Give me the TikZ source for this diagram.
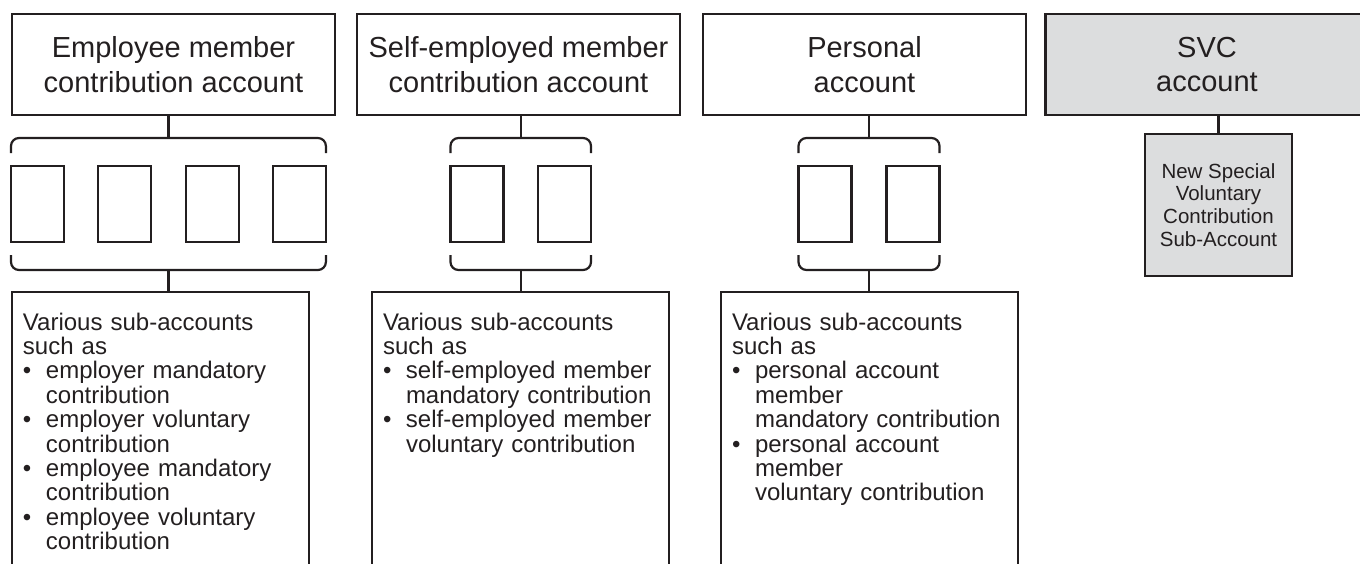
\documentclass[tikz,border=0pt]{standalone}
\usepackage{fontspec}
\setmainfont{Liberation Sans}
\usetikzlibrary{calc}
\definecolor{inkgray}{HTML}{231F20}
\definecolor{svcgray}{HTML}{DCDDDE}
\setlength{\parindent}{0pt}
% bullet line with hanging indent
\newcommand{\acctitem}[1]{\par\hangindent=23pt\hangafter=1\makebox[23pt][l]{\textbullet}#1\par}

\tikzset{
  acct/.style={draw=inkgray, line width=2.2pt, minimum width=323pt, minimum height=101pt,
    inner sep=0pt, outer sep=0pt, align=center, text=inkgray, font=\fontsize{29}{34.5}\selectfont},
  slot/.style={draw=inkgray, line width=2.2pt, minimum width=53pt, minimum height=76pt,
    inner sep=0pt, outer sep=0pt},
  detail/.style={draw=inkgray, line width=2.2pt, anchor=north west, text width=275pt,
    inner xsep=11pt, inner ysep=21pt, outer sep=0pt, text height=17pt, text depth=300pt,
    align=left, text=inkgray, font=\fontsize{24}{24.4}\selectfont},
  subacct/.style={draw=inkgray, fill=svcgray, line width=2.2pt, minimum width=147pt,
    minimum height=142pt, inner sep=0pt, outer sep=0pt, align=center, text=inkgray,
    font=\fontsize{20.5}{22.7}\selectfont},
  link/.style={draw=inkgray, line width=2.2pt},
  brace/.style={draw=inkgray, line width=2.2pt, rounded corners=8pt}
}

\begin{document}
\begin{tikzpicture}[x=1pt, y=-1pt]
\useasboundingbox (0,0) rectangle (1360,563);

% account boxes
\node[acct] (emp) at (173.5,64.5) {Employee member\\contribution account};
\node[acct] (self) at (518.5,64.5) {Self-employed member\\contribution account};
\node[acct] (pers) at (864.5,64.5) {Personal\\account};
\node[acct, fill=svcgray] (svc) at (1207,64.5) {SVC\\account};

% sub-account slots
\foreach \i/\x in {1/37.5, 2/124.8, 3/212.1, 4/299.4}
  \node[slot] (e\i) at (\x,204) {};
\node[slot] (s1) at (477,204) {};
\node[slot] (s2) at (564.5,204) {};
\node[slot] (p1) at (825,204) {};
\node[slot] (p2) at (913,204) {};

% brackets round the slots
\foreach \col/\first/\last in {e/e1/e4, s/s1/s2, p/p1/p2} {
  \draw[brace] ([yshift=13pt]\first.north west) -- ([yshift=28pt]\first.north west)
    -- ([yshift=28pt]\last.north east) -- ([yshift=13pt]\last.north east);
  \draw[brace] ([yshift=-13pt]\first.south west) -- ([yshift=-28pt]\first.south west)
    -- ([yshift=-28pt]\last.south east) -- ([yshift=-13pt]\last.south east);
  \coordinate (\col top) at ($(\first.north)!0.5!(\last.north)+(0,-28)$);
  \coordinate (\col bot) at ($(\first.south)!0.5!(\last.south)+(0,28)$);
}

% detail boxes, open at the bottom
\node[detail] (edet) at (12,292) {Various sub-accounts\newline such as
  \acctitem{employer mandatory\newline contribution}
  \acctitem{employer voluntary\newline contribution}
  \acctitem{employee mandatory\newline contribution}
  \acctitem{employee voluntary\newline contribution}};
\node[detail] (sdet) at (372,292) {Various sub-accounts\newline such as
  \acctitem{self-employed member\newline mandatory contribution}
  \acctitem{self-employed member\newline voluntary contribution}};
\node[detail] (pdet) at (721,292) {Various sub-accounts\newline such as
  \acctitem{personal account\newline member\newline mandatory contribution}
  \acctitem{personal account\newline member\newline voluntary contribution}};

% SVC sub-account
\node[subacct] (svcsub) at (1218.5,205) {New Special\\Voluntary\\Contribution\\Sub-Account};

% connectors
\draw[link] (emp.south -| etop) -- (etop);
\draw[link] (ebot) -- (edet.north -| ebot);
\draw[link] (self.south -| stop) -- (stop);
\draw[link] (sbot) -- (sdet.north -| sbot);
\draw[link] (pers.south -| ptop) -- (ptop);
\draw[link] (pbot) -- (pdet.north -| pbot);
\draw[link] (svc.south -| svcsub.north) -- (svcsub.north);
\end{tikzpicture}
\end{document}
